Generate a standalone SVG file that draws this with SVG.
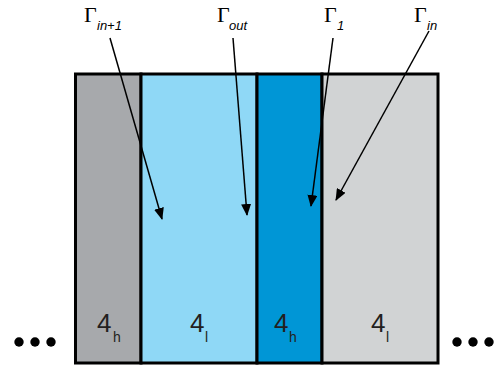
<svg xmlns="http://www.w3.org/2000/svg" width="495" height="368" viewBox="0 0 495 368">
<defs>
<marker id="ah" viewBox="0 0 12 10" refX="11" refY="5" markerWidth="12" markerHeight="10" markerUnits="userSpaceOnUse" orient="auto">
<path d="M0,0 L12,5 L0,10 Z" fill="#000"/>
</marker>
</defs>
<style>
.cell{stroke:#000;stroke-width:3}
.num{font-family:"Liberation Sans",Arial,sans-serif;font-size:26px;fill:#231f20}
.sub{font-family:"Liberation Sans",Arial,sans-serif;font-size:14px;fill:#231f20}
.g{font-family:"Liberation Serif","Times New Roman",serif;font-size:22px;fill:#000}
.gs{font-family:"Liberation Sans",Arial,sans-serif;font-size:13px;font-style:italic;fill:#000}
.arr{stroke:#000;stroke-width:1.5;fill:none;marker-end:url(#ah)}
.dot{fill:#000}
</style>
<rect width="495" height="368" fill="#fff"/>
<g id="cell1"><rect class="cell" x="75.5" y="74" width="65.5" height="289" fill="#a7a9ac"/><text class="num" x="97" y="332">4</text><text class="sub" x="113" y="342">h</text></g>
<g id="cell2"><rect class="cell" x="141" y="74" width="116" height="289" fill="#8fd8f6"/><text class="num" x="190" y="332">4</text><text class="sub" x="205" y="342">l</text></g>
<g id="cell3"><rect class="cell" x="257" y="74" width="65" height="289" fill="#0096d6"/><text class="num" x="274" y="332">4</text><text class="sub" x="289" y="342">h</text></g>
<g id="cell4"><rect class="cell" x="322" y="74" width="116" height="289" fill="#d1d3d4"/><text class="num" x="371" y="332">4</text><text class="sub" x="386" y="342">l</text></g>
<g id="dots-left"><circle class="dot" cx="19" cy="342" r="4.7"/><circle class="dot" cx="35" cy="342" r="4.7"/><circle class="dot" cx="51" cy="342" r="4.7"/></g>
<g id="dots-right"><circle class="dot" cx="457" cy="342" r="4.7"/><circle class="dot" cx="473" cy="342" r="4.7"/><circle class="dot" cx="489" cy="342" r="4.7"/></g>
<g id="label-in1"><text class="g" x="84" y="22">Γ</text><text class="gs" x="97" y="30">in+1</text></g>
<g id="label-out"><text class="g" x="217" y="22">Γ</text><text class="gs" x="229" y="30">out</text></g>
<g id="label-1"><text class="g" x="324" y="22">Γ</text><text class="gs" x="337" y="30">1</text></g>
<g id="label-in"><text class="g" x="414" y="22">Γ</text><text class="gs" x="427" y="30">in</text></g>
<g id="connectors">
<line class="arr" x1="110" y1="38" x2="162" y2="219"/>
<line class="arr" x1="233" y1="38" x2="247" y2="215"/>
<line class="arr" x1="333" y1="38" x2="311" y2="206"/>
<line class="arr" x1="429" y1="31" x2="336" y2="200"/>
</g>
</svg>
